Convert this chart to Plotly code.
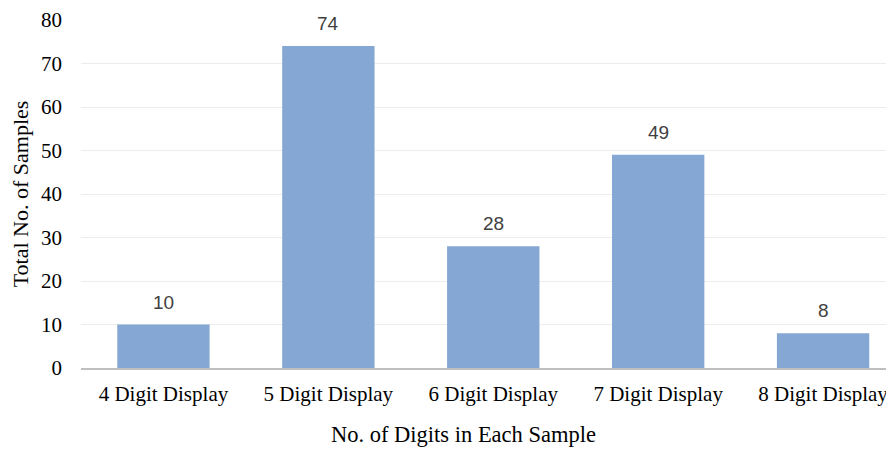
import plotly.graph_objects as go

categories = ["4 Digit Display", "5 Digit Display", "6 Digit Display", "7 Digit Display", "8 Digit Display"]
values = [10, 74, 28, 49, 8]

serif = "Liberation Serif"
fig = go.Figure()
fig.add_trace(go.Bar(x=categories, y=values, width=0.56,
                     marker=dict(color="#84A7D3", line=dict(width=0))))
for c, v in zip(categories, values):
    fig.add_annotation(x=c, y=v, text=str(v), showarrow=False, yanchor="bottom",
                       yshift=10, font=dict(family="Liberation Sans", size=19, color="#404040"))

fig.add_annotation(xref="paper", yref="paper", x=0.4705, y=-0.1925, xanchor="center", yanchor="middle",
                   text="No. of Digits in Each Sample", showarrow=False,
                   font=dict(family=serif, size=22.5, color="black"))

fig.update_layout(
    width=894, height=449, plot_bgcolor="white", paper_bgcolor="white",
    margin=dict(l=73, r=8, t=12, b=89), showlegend=False,
    xaxis=dict(range=[-0.5, 4.43], showgrid=False, showline=True, linecolor="#BFBFBF", linewidth=2,
               automargin=False,
               tickfont=dict(family=serif, size=21, color="black"), ticklabelstandoff=6),
    yaxis=dict(range=[0, 80], dtick=10, showgrid=True, gridcolor="#ECECEC", gridwidth=1, zeroline=False,
               automargin=False,
               tickfont=dict(family=serif, size=21, color="black"), ticklabelstandoff=18,
               title=dict(text="Total No. of Samples", font=dict(family=serif, size=22, color="black"), standoff=8)),
)
fig.write_html("out.html")
